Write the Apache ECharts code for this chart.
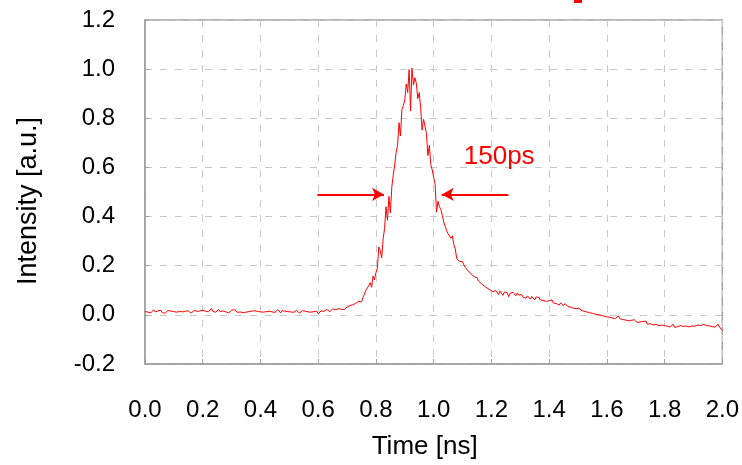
<!DOCTYPE html>
<html>
<head>
<meta charset="utf-8">
<script src="https://cdn.jsdelivr.net/npm/echarts@6/dist/echarts.min.js"></script>
<style>html,body{margin:0;padding:0;background:#fff;}#c{width:742px;height:465px;}</style>
</head>
<body>
<div id="c"></div>
<script>
const xTicks = [0.0,0.2,0.4,0.6,0.8,1.0,1.2,1.4,1.6,1.8,2.0];
const yTicks = [-0.2,0.0,0.2,0.4,0.6,0.8,1.0,1.2];
const time = [
0,0.005,0.01,0.015,0.02,0.025,0.03,0.035,0.04,0.045,0.05,0.055,0.06,0.065,0.07,0.075,0.08,0.085,0.09,0.095,
0.1,0.105,0.11,0.115,0.12,0.125,0.13,0.135,0.14,0.145,0.15,0.155,0.16,0.165,0.17,0.175,0.18,0.185,0.19,0.195,
0.2,0.205,0.21,0.215,0.22,0.225,0.23,0.235,0.24,0.245,0.25,0.255,0.26,0.265,0.27,0.275,0.28,0.285,0.29,0.295,
0.3,0.305,0.31,0.315,0.32,0.325,0.33,0.335,0.34,0.345,0.35,0.355,0.36,0.365,0.37,0.375,0.38,0.385,0.39,0.395,
0.4,0.405,0.41,0.415,0.42,0.425,0.43,0.435,0.44,0.445,0.45,0.455,0.46,0.465,0.47,0.475,0.48,0.485,0.49,0.495,
0.5,0.505,0.51,0.515,0.52,0.525,0.53,0.535,0.54,0.545,0.55,0.555,0.56,0.565,0.57,0.575,0.58,0.585,0.59,0.595,
0.6,0.605,0.61,0.615,0.62,0.625,0.63,0.635,0.64,0.645,0.65,0.655,0.66,0.665,0.67,0.675,0.68,0.685,0.69,0.695,
0.7,0.705,0.71,0.715,0.72,0.725,0.73,0.735,0.74,0.745,0.75,0.755,0.76,0.765,0.77,0.775,0.78,0.785,0.79,0.795,
0.8,0.805,0.81,0.815,0.82,0.825,0.83,0.835,0.84,0.845,0.85,0.855,0.86,0.865,0.87,0.875,0.88,0.885,0.89,0.895,
0.9,0.905,0.91,0.915,0.92,0.925,0.93,0.935,0.94,0.945,0.95,0.955,0.96,0.965,0.97,0.975,0.98,0.985,0.99,0.995,
1.0,1.005,1.01,1.015,1.02,1.025,1.03,1.035,1.04,1.045,1.05,1.055,1.06,1.065,1.07,1.075,1.08,1.085,1.09,1.095,
1.1,1.105,1.11,1.115,1.12,1.125,1.13,1.135,1.14,1.145,1.15,1.155,1.16,1.165,1.17,1.175,1.18,1.185,1.19,1.195,
1.2,1.205,1.21,1.215,1.22,1.225,1.23,1.235,1.24,1.245,1.25,1.255,1.26,1.265,1.27,1.275,1.28,1.285,1.29,1.295,
1.3,1.305,1.31,1.315,1.32,1.325,1.33,1.335,1.34,1.345,1.35,1.355,1.36,1.365,1.37,1.375,1.38,1.385,1.39,1.395,
1.4,1.405,1.41,1.415,1.42,1.425,1.43,1.435,1.44,1.445,1.45,1.455,1.46,1.465,1.47,1.475,1.48,1.485,1.49,1.495,
1.5,1.505,1.51,1.515,1.52,1.525,1.53,1.535,1.54,1.545,1.55,1.555,1.56,1.565,1.57,1.575,1.58,1.585,1.59,1.595,
1.6,1.605,1.61,1.615,1.62,1.625,1.63,1.635,1.64,1.645,1.65,1.655,1.66,1.665,1.67,1.675,1.68,1.685,1.69,1.695,
1.7,1.705,1.71,1.715,1.72,1.725,1.73,1.735,1.74,1.745,1.75,1.755,1.76,1.765,1.77,1.775,1.78,1.785,1.79,1.795,
1.8,1.805,1.81,1.815,1.82,1.825,1.83,1.835,1.84,1.845,1.85,1.855,1.86,1.865,1.87,1.875,1.88,1.885,1.89,1.895,
1.9,1.905,1.91,1.915,1.92,1.925,1.93,1.935,1.94,1.945,1.95,1.955,1.96,1.965,1.97,1.975,1.98,1.985,1.99,1.995,
2.0];
const intensity = [
0.014,0.020,0.011,0.017,0.008,0.015,0.021,0.012,0.006,0.016,0.013,0.019,0.009,0.014,0.007,0.012,0.018,0.010,0.015,0.008,0.013,
0.017,0.011,0.006,0.014,0.019,0.012,0.009,0.015,0.010,0.016,0.012,0.007,0.013,0.018,0.011,0.014,0.009,0.016,0.012,0.019,
0.024,0.015,0.021,0.012,0.018,0.026,0.014,0.019,0.011,0.017,0.022,0.013,0.009,0.016,0.020,0.012,0.015,0.008,0.014,0.019,
0.013,0.021,0.015,0.010,0.017,0.012,0.016,0.009,0.014,0.011,0.018,0.013,0.008,0.015,0.012,0.017,0.010,0.014,0.006,0.012,
0.016,0.011,0.019,0.013,0.009,0.015,0.020,0.012,0.016,0.010,0.014,0.021,0.013,0.008,0.017,0.011,0.015,0.009,0.013,0.018,
0.012,0.016,0.010,0.014,0.019,0.011,0.007,0.013,0.017,0.010,0.015,0.009,0.012,0.018,0.011,0.006,0.013,0.009,0.015,0.004,
0.010,0.016,0.020,0.014,0.018,0.022,0.017,0.013,0.019,0.024,0.016,0.021,0.018,0.025,0.019,0.023,0.028,0.021,0.026,0.032,
0.030,0.038,0.033,0.041,0.036,0.047,0.043,0.055,0.060,0.052,0.071,0.083,0.100,0.092,0.118,0.131,0.112,0.158,0.143,0.171,
0.190,0.276,0.262,0.232,0.310,0.352,0.440,0.385,0.482,0.415,0.520,0.568,0.610,0.662,0.690,0.782,0.728,0.836,0.852,0.875,
0.940,0.905,0.998,0.830,1.004,0.935,0.965,0.942,0.880,0.905,0.842,0.752,0.796,0.768,0.738,0.648,0.690,0.612,0.590,0.560,
0.532,0.418,0.462,0.440,0.428,0.405,0.378,0.360,0.342,0.330,0.338,0.312,0.322,0.285,0.268,0.228,0.222,0.218,0.224,0.216,
0.203,0.192,0.186,0.178,0.184,0.166,0.170,0.155,0.148,0.152,0.138,0.132,0.127,0.135,0.118,0.122,0.109,0.114,0.102,0.108,
0.094,0.086,0.099,0.091,0.083,0.097,0.088,0.079,0.093,0.085,0.090,0.074,0.088,0.081,0.092,0.084,0.078,0.089,0.080,0.076,
0.083,0.071,0.079,0.068,0.077,0.072,0.064,0.075,0.069,0.061,0.073,0.066,0.070,0.060,0.067,0.058,0.064,0.055,0.062,0.057,
0.052,0.061,0.048,0.055,0.046,0.053,0.040,0.049,0.044,0.037,0.046,0.039,0.034,0.042,0.031,0.036,0.027,0.033,0.025,0.022,
0.028,0.019,0.024,0.015,0.021,0.012,0.018,0.009,0.014,0.006,0.011,0.003,0.009,0.001,0.006,-0.002,0.004,-0.005,0.001,-0.008,
-0.003,-0.010,-0.005,-0.013,-0.007,-0.015,-0.010,-0.004,-0.016,-0.011,-0.019,-0.013,-0.021,-0.015,-0.024,-0.018,-0.022,-0.028,-0.020,-0.026,
-0.031,-0.023,-0.029,-0.035,-0.027,-0.033,-0.025,-0.038,-0.030,-0.036,-0.028,-0.041,-0.034,-0.039,-0.032,-0.044,-0.037,-0.042,-0.035,-0.043,
-0.039,-0.047,-0.041,-0.049,-0.043,-0.038,-0.051,-0.045,-0.048,-0.052,-0.044,-0.050,-0.047,-0.053,-0.046,-0.051,-0.049,-0.054,-0.045,-0.050,
-0.046,-0.052,-0.041,-0.049,-0.044,-0.050,-0.039,-0.047,-0.043,-0.051,-0.045,-0.040,-0.048,-0.042,-0.050,-0.044,-0.038,-0.049,-0.046,-0.063
];
const fwhmLevel = 0.49;
const leftArrow = [0.597, 0.828];
const rightArrow = [1.259, 1.028];
const fwhmLabel = '150ps';
const fwhmLabelPos = [1.227, 0.645];

const pts = time.map((t, i) => [t, intensity[i]]);
const FONT = "'Liberation Sans', Arial, sans-serif";
const RED = '#ff0000';
const chart = echarts.init(document.getElementById('c'));
chart.setOption({
  animation: false,
  backgroundColor: '#ffffff',
  grid: { left: 145, right: 17, top: 20, bottom: 100, show: true, borderColor: '#a0a0a0', borderWidth: 1.5, backgroundColor: 'transparent' },
  xAxis: {
    type: 'value', min: xTicks[0], max: xTicks[xTicks.length - 1], interval: 0.2,
    name: 'Time [ns]', nameLocation: 'middle', nameGap: 70,
    nameTextStyle: { fontFamily: FONT, fontSize: 26, color: '#000', padding: [0, 18, 0, 0] },
    axisLine: { show: true, onZero: false, lineStyle: { color: '#a0a0a0', width: 1.5 } },
    axisTick: { show: true, inside: true, length: 5, lineStyle: { color: '#a0a0a0' } },
    axisLabel: { fontFamily: FONT, fontSize: 24, color: '#000', margin: 34, formatter: v => v.toFixed(1) },
    splitLine: { show: true, lineStyle: { color: '#c8c8c8', type: [7, 8], width: 1 } }
  },
  yAxis: {
    type: 'value', min: yTicks[0], max: yTicks[yTicks.length - 1], interval: 0.2,
    name: 'Intensity [a.u.]', nameLocation: 'middle', nameGap: 103,
    nameTextStyle: { fontFamily: FONT, fontSize: 27, color: '#000', padding: [0, 18, 0, 0] },
    axisLine: { show: true, onZero: false, lineStyle: { color: '#a0a0a0', width: 1.5 } },
    axisTick: { show: true, inside: true, length: 4, lineStyle: { color: '#a0a0a0' } },
    axisLabel: { fontFamily: FONT, fontSize: 24, color: '#000', margin: 30, formatter: v => v.toFixed(1) },
    splitLine: { show: true, lineStyle: { color: '#c8c8c8', type: [7, 8], width: 1 } }
  },
  graphic: [
    { type: 'rect', shape: { x: 574, y: 0, width: 8, height: 3 }, style: { fill: RED } }
  ],
  series: [{
    type: 'line', data: pts, showSymbol: false, symbol: 'none', sampling: 'none',
    lineStyle: { color: RED, width: 1 }, itemStyle: { color: RED },
    markLine: {
      silent: true, symbol: ['none', 'arrow'], symbolSize: [10, 12],
      lineStyle: { color: RED, width: 2, type: 'solid' },
      label: { show: false },
      data: [
        [{ coord: [leftArrow[0], fwhmLevel] }, { coord: [leftArrow[1], fwhmLevel] }],
        [{ coord: [rightArrow[0], fwhmLevel] }, { coord: [rightArrow[1], fwhmLevel] }]
      ]
    },
    markPoint: {
      silent: true,
      data: [{ coord: fwhmLabelPos, symbol: 'circle', symbolSize: 1, itemStyle: { color: 'rgba(0,0,0,0)' },
        label: { show: true, position: 'inside', formatter: fwhmLabel, color: RED, fontFamily: FONT, fontSize: 26 } }]
    }
  }]
});
</script>
</body>
</html>
